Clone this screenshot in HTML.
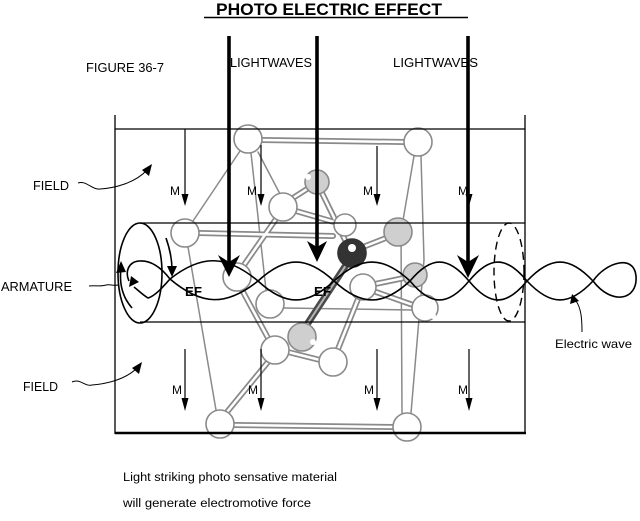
<!DOCTYPE html>
<html>
<head>
<meta charset="utf-8">
<style>
html,body{margin:0;padding:0;background:#fff;}
svg{display:block;}
text{font-family:"Liberation Sans",Arial,sans-serif;fill:#000;}
</style>
</head>
<body>
<svg width="640" height="521" viewBox="0 0 640 521" xmlns="http://www.w3.org/2000/svg">
<rect width="640" height="521" fill="#fff"/>

<!-- ===== Molecule (gray) ===== -->
<g fill="none" stroke="#8a8a8a" stroke-width="1.5" stroke-linecap="round">
  <!-- thin skeleton lines -->
  <line x1="240" y1="151" x2="193" y2="221"/>
  <line x1="251" y1="153" x2="266" y2="290"/>
  <line x1="188" y1="247" x2="216" y2="410"/>
  <polyline points="414,156 401,232 402,413"/>
  <polyline points="421,156 424,260 411,413"/>
  <line x1="284" y1="308" x2="412" y2="310"/>
  <line x1="258" y1="152" x2="280" y2="194"/>
</g>

<!-- rods: outer gray, inner white -->
<g stroke-linecap="round" fill="none">
  <g stroke="#8a8a8a" stroke-width="6">
    <line x1="262" y1="140" x2="404" y2="142"/>
    <line x1="199" y1="233" x2="333" y2="236"/>
    <line x1="293" y1="198" x2="307" y2="189"/>
    <line x1="296" y1="211" x2="334" y2="222"/>
    <line x1="276" y1="219" x2="244" y2="265"/>
    <line x1="322" y1="193" x2="345" y2="240"/>
    <line x1="363" y1="247" x2="386" y2="238"/>
    <line x1="242" y1="290" x2="268" y2="338"/>
    <line x1="288" y1="352" x2="320" y2="360"/>
    <line x1="268" y1="362" x2="227" y2="412"/>
    <line x1="338" y1="349" x2="358" y2="299"/>
    <line x1="375" y1="284" x2="404" y2="278"/>
    <line x1="376" y1="292" x2="413" y2="305"/>
    <line x1="234" y1="425" x2="393" y2="427"/>
  </g>
  <g stroke="#fff" stroke-width="2.5">
    <line x1="262" y1="140" x2="404" y2="142"/>
    <line x1="199" y1="233" x2="333" y2="236"/>
    <line x1="293" y1="198" x2="307" y2="189"/>
    <line x1="296" y1="211" x2="334" y2="222"/>
    <line x1="276" y1="219" x2="244" y2="265"/>
    <line x1="322" y1="193" x2="345" y2="240"/>
    <line x1="363" y1="247" x2="386" y2="238"/>
    <line x1="242" y1="290" x2="268" y2="338"/>
    <line x1="288" y1="352" x2="320" y2="360"/>
    <line x1="268" y1="362" x2="227" y2="412"/>
    <line x1="338" y1="349" x2="358" y2="299"/>
    <line x1="375" y1="284" x2="404" y2="278"/>
    <line x1="376" y1="292" x2="413" y2="305"/>
    <line x1="234" y1="425" x2="393" y2="427"/>
  </g>
  <!-- dark rod G-N -->
  <line x1="348" y1="262" x2="306" y2="326" stroke="#4a4a4a" stroke-width="7"/>
  <line x1="348" y1="262" x2="306" y2="326" stroke="#b5b5b5" stroke-width="2"/>
</g>

<!-- atoms -->
<g stroke="#8a8a8a" stroke-width="1.6">
  <circle cx="248" cy="139" r="14" fill="#fff"/>
  <circle cx="418" cy="142" r="14" fill="#fff"/>
  <circle cx="317" cy="182" r="12" fill="#cfcfcf"/>
  <circle cx="283" cy="207" r="14" fill="#fff"/>
  <circle cx="185" cy="233" r="14" fill="#fff"/>
  <circle cx="345" cy="225" r="11" fill="#fff"/>
  <circle cx="398" cy="232" r="14" fill="#cfcfcf"/>
  <circle cx="237" cy="277" r="14" fill="#fff"/>
  <circle cx="415" cy="275" r="12" fill="#cfcfcf"/>
  <circle cx="363" cy="287" r="13" fill="#fff"/>
  <circle cx="425" cy="308" r="13" fill="#fff"/>
  <circle cx="270" cy="304" r="14" fill="#fff"/>
  <circle cx="275" cy="350" r="14" fill="#fff"/>
  <circle cx="302" cy="337" r="14" fill="#cfcfcf"/>
  <circle cx="333" cy="362" r="14" fill="#fff"/>
  <circle cx="220" cy="424" r="14" fill="#fff"/>
  <circle cx="407" cy="427" r="14" fill="#fff"/>
  <circle cx="352" cy="253" r="14" fill="#333" stroke="#333"/>
</g>
<circle cx="352" cy="248" r="4" fill="#fff"/>
<!-- notches -->
<g fill="#fff">
  <circle cx="308" cy="177" r="3"/>
  <circle cx="313" cy="342" r="3"/>
  <circle cx="433" cy="316" r="3"/>
</g>

<!-- ===== Box & cylinder ===== -->
<g stroke="#000" fill="none">
  <line x1="115" y1="115" x2="115" y2="434" stroke-width="1.3"/>
  <line x1="525" y1="115" x2="525" y2="434" stroke-width="1.3"/>
  <line x1="115" y1="129" x2="525" y2="129" stroke-width="1.3"/>
  <line x1="115" y1="433" x2="526" y2="433" stroke-width="2.6"/>
  <line x1="140" y1="223" x2="525" y2="223" stroke-width="1.2"/>
  <line x1="140" y1="322" x2="525" y2="322" stroke-width="1.2"/>
  <ellipse cx="140" cy="273" rx="22" ry="50" stroke-width="1.6"/>
  <ellipse cx="509" cy="272" rx="15" ry="49" stroke-width="1.4" stroke-dasharray="8 5"/>
</g>

<!-- ===== M arrows ===== -->
<g stroke="#000" stroke-width="1.2">
  <line x1="185" y1="129" x2="185" y2="198"/>
  <line x1="261" y1="145" x2="261" y2="198"/>
  <line x1="377" y1="146" x2="377" y2="198"/>
  <line x1="185" y1="349" x2="185" y2="400"/>
  <line x1="261" y1="349" x2="261" y2="400"/>
  <line x1="377" y1="349" x2="377" y2="400"/>
  <line x1="469" y1="349" x2="469" y2="400"/>
</g>
<g fill="#000">
  <polygon points="181.5,194 188.5,194 185,206"/>
  <polygon points="257.5,194 264.5,194 261,206"/>
  <polygon points="373.5,194 380.5,194 377,206"/>
  <polygon points="465.5,194 472.5,194 469,206"/>
  <polygon points="181.5,398 188.5,398 185,411"/>
  <polygon points="257.5,398 264.5,398 261,411"/>
  <polygon points="373.5,398 380.5,398 377,411"/>
  <polygon points="465.5,398 472.5,398 469,411"/>
</g>
<g font-size="12">
  <text x="170" y="195">M</text>
  <text x="247" y="195">M</text>
  <text x="363" y="195">M</text>
  <text x="458" y="195">M</text>
  <text x="172" y="394">M</text>
  <text x="248" y="394">M</text>
  <text x="364" y="394">M</text>
  <text x="458" y="394">M</text>
</g>

<!-- ===== Electric wave ===== -->
<g fill="none" stroke="#000" stroke-width="1.6">
  <!-- curve U -->
  <path d="M170,279 C201.7,254 226.3,254.7 258,281 C285.4,306.3 306.6,306.3 334,281 C361.4,255.7 382.6,255.7 410,281 C431.2,306.3 447.8,306.3 469,281 C489.9,255.7 506.1,255.7 527,281 C550.8,306.3 569.2,306.3 593,281"/>
  <!-- curve D -->
  <path d="M170,279 C201.7,306 226.3,306.3 258,281 C285.4,255.7 306.6,255.7 334,281 C361.4,306.3 382.6,306.3 410,281 C431.2,255.7 447.8,255.7 469,281 C489.9,306.3 506.1,306.3 527,281 C550.8,255.7 569.2,255.7 593,281"/>
  <!-- right teardrop -->
  <path d="M593,281 C606,262 634,254 636,276 C638,300 612,306 593,281"/>
  <!-- left loop -->
  <path d="M170,279 C160,266 150,260 139,261 C128,262 125,272 129,281"/>
  <path d="M170,279 C162,288 155,296 148,298 C143,295 139,291 134,287"/>
  <!-- inner curved arrows in ellipse -->
  <path d="M132,308 Q118,292 121,268"/>
  <path d="M166,238 Q172,255 172,270"/>
  <!-- armature pointer -->
  <path d="M89,286 C96,285 100,287 106,285 C110,284 113,286 118,285" stroke-width="1"/>
  <!-- field pointers -->
  <path d="M78,183 C86,180 92,190 100,189 C115,188 135,183 147,170" stroke-width="1"/>
  <path d="M72,382 C80,378 85,387 92,385 C105,384 125,380 137,368" stroke-width="1"/>
  <!-- electric wave pointer -->
  <path d="M582,332 C582,318 581,308 576,301" stroke-width="1"/>
</g>
<g fill="#000">
  <polygon points="121,261 116,273 126,272"/>
  <polygon points="172,277 167,266 177,266"/>
  <polygon points="129,287 131,276 139,282"/>
  <polygon points="152,164 142,170 149,176"/>
  <polygon points="142,362 132,368 139,374"/>
  <polygon points="572,294 570,304 579,301"/>
</g>

<!-- ===== Light arrows ===== -->
<g stroke="#000" stroke-width="3.6">
  <line x1="229" y1="36" x2="229" y2="262"/>
  <line x1="317" y1="36" x2="317" y2="248"/>
  <line x1="468" y1="36" x2="468" y2="262"/>
</g>
<g fill="#000">
  <polygon points="218,255 229,277 240,255 229,262"/>
  <polygon points="307,241 317,262 327,241 317,247"/>
  <polygon points="457,255 468,278 479,255 468,262"/>
</g>

<!-- ===== Text ===== -->
<text x="216" y="15" font-size="17" font-weight="bold" textLength="226" lengthAdjust="spacingAndGlyphs">PHOTO ELECTRIC EFFECT</text>
<line x1="204" y1="17.5" x2="468" y2="17.5" stroke="#000" stroke-width="1.4"/>

<text x="86" y="72" font-size="12.5" textLength="78" lengthAdjust="spacingAndGlyphs">FIGURE 36-7</text>
<text x="230" y="67" font-size="12.5" textLength="82" lengthAdjust="spacingAndGlyphs">LIGHTWAVES</text>
<text x="393" y="67" font-size="12.5" textLength="85" lengthAdjust="spacingAndGlyphs">LIGHTWAVES</text>
<text x="33" y="190" font-size="12.5" textLength="36" lengthAdjust="spacingAndGlyphs">FIELD</text>
<text x="23" y="391" font-size="12.5" textLength="35" lengthAdjust="spacingAndGlyphs">FIELD</text>
<text x="1" y="291" font-size="12.5" textLength="71" lengthAdjust="spacingAndGlyphs">ARMATURE</text>
<text x="185" y="296" font-size="13" font-weight="bold" textLength="17" lengthAdjust="spacingAndGlyphs">EF</text>
<text x="314" y="296" font-size="13" font-weight="bold" textLength="17" lengthAdjust="spacingAndGlyphs">EF</text>
<text x="555" y="348" font-size="12" textLength="77" lengthAdjust="spacingAndGlyphs">Electric wave</text>
<text x="123" y="481" font-size="11.5" textLength="214" lengthAdjust="spacingAndGlyphs">Light striking  photo sensative material</text>
<text x="123" y="507" font-size="11.5" textLength="188" lengthAdjust="spacingAndGlyphs">will generate electromotive force</text>
</svg>
</body>
</html>
